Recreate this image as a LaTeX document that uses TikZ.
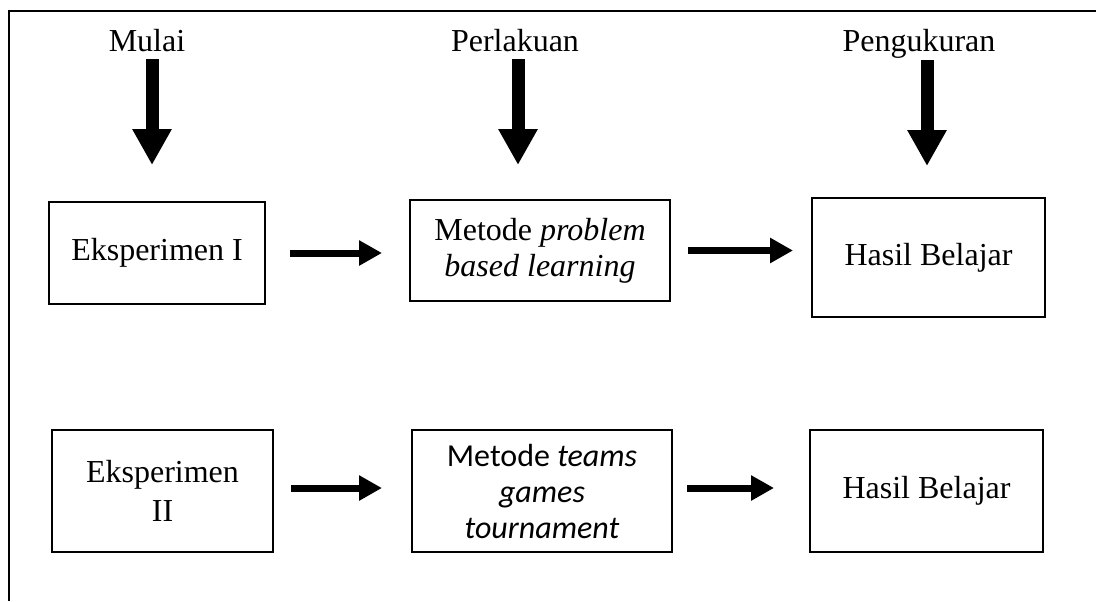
\documentclass[tikz,border=0pt]{standalone}
\usepackage{fontspec}
\setmainfont{Liberation Serif}
\newfontfamily\calibri{Carlito}
\usetikzlibrary{arrows.meta}

\begin{document}
\begin{tikzpicture}[
      x=0.5pt, y=-0.5pt,
      box/.style={draw,line width=1pt,align=center,inner sep=0pt,
        font=\fontsize{16}{18}\selectfont},
      toplabel/.style={anchor=base,inner sep=0pt,text depth=0pt,
        font=\fontsize{16}{18}\selectfont},
      varrow/.style={line width=6.5pt,-{Triangle[length=18pt,width=18.5pt]}},
      harrow/.style={line width=3.5pt,-{Triangle[length=11.5pt,width=12pt]}},
      ]
      \useasboundingbox (0,0) rectangle (1096,601);
      % frame
      \draw[line width=1.3pt] (1096,11) -- (9,11) -- (9,601);

      % labels on top
      \node[toplabel] (mulai) at (147,51) {Mulai};
      \node[toplabel] (perlakuan) at (515,51) {Perlakuan};
      \node[toplabel] (pengukuran) at (919,51) {Pengukuran};

      % first row
      \node[box,minimum width=108pt,minimum height=51pt] (eks1) at (157,253) {Eksperimen I};
      \node[box,minimum width=130pt,minimum height=50.5pt] (pbl) at (540,250.5)
        {Metode \textit{problem}\\\textit{based learning}};
      \node[box,minimum width=116.5pt,minimum height=59.5pt] (hasil1) at (928.5,257.5) {Hasil Belajar};

      % second row
      \node[box,minimum width=110.5pt,minimum height=61pt] (eks2) at (162.5,491) {Eksperimen\\[1.5pt]II};
      \node[box,minimum width=130pt,minimum height=61pt,
        font=\fontsize{16}{18}\selectfont\calibri] (tgt) at (542,491)
        {Metode \textit{teams}\\\textit{games}\\\textit{tournament}};
      \node[box,minimum width=116.5pt,minimum height=61pt] (hasil2) at (926.5,491) {Hasil Belajar};

      % vertical arrows
      \draw[varrow,shorten <=4pt,shorten >=18pt] ([xshift=2.5pt]mulai.base) -- ([xshift=2.5pt]mulai.base |- eks1.north);
      \draw[varrow,shorten <=4pt,shorten >=17pt] ([xshift=1.5pt]perlakuan.base) -- ([xshift=1.5pt]perlakuan.base |- pbl.north);
      \draw[varrow,shorten <=4.5pt,shorten >=15.5pt] ([xshift=4pt]pengukuran.base) -- ([xshift=4pt]pengukuran.base |- hasil1.north);

      % horizontal arrows
      \draw[harrow,shorten <=12pt,shorten >=13.5pt] (eks1.east) -- (eks1.east -| pbl.west);
      \draw[harrow,shorten <=8.5pt,shorten >=9pt] (pbl.east) -- (pbl.east -| hasil1.west);
      \draw[harrow,shorten <=8.5pt,shorten >=14.5pt] ([yshift=1.5pt]eks2.east) -- ([yshift=1.5pt]eks2.east -| tgt.west);
      \draw[harrow,shorten <=7pt,shorten >=17.5pt] ([yshift=1.5pt]tgt.east) -- ([yshift=1.5pt]tgt.east -| hasil2.west);
    \end{tikzpicture}
\end{document}
